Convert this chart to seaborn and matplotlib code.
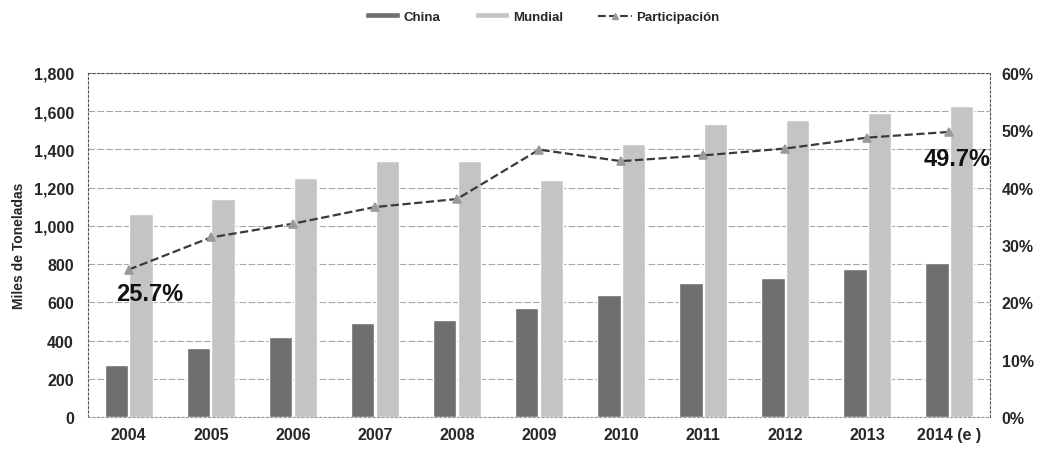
import matplotlib
matplotlib.use("Agg")
import matplotlib.pyplot as plt
import seaborn as sns
import pandas as pd
from matplotlib.ticker import FuncFormatter
from matplotlib.lines import Line2D
from matplotlib.patches import Patch

# Data (thousand tonnes and China's share of world output)
years = ["2004", "2005", "2006", "2007", "2008", "2009", "2010", "2011", "2012", "2013", "2014 (e )"]
china = [272, 360, 420, 490, 510, 570, 640, 700, 725, 775, 805]
mundial = [1060, 1140, 1250, 1340, 1340, 1240, 1430, 1530, 1555, 1590, 1625]
participacion = [25.7, 31.3, 33.7, 36.6, 38.0, 46.6, 44.6, 45.6, 46.8, 48.7, 49.7]

series_names = ["China", "Mundial"]
bar_colors = ["#6f6f6f", "#c4c4c4"]
line_color = "#3a3a3a"
marker_color = "#9a9a9a"

sns.set_theme(style="white")
plt.rcParams["font.family"] = ["Liberation Sans", "DejaVu Sans"]

df = pd.DataFrame({
    "Año": years * 2,
    "Valor": china + mundial,
    "Serie": [series_names[0]] * len(years) + [series_names[1]] * len(years),
})

fig = plt.figure(figsize=(10.57, 4.64), dpi=100)
ax = fig.add_axes([0.083, 0.099, 0.854, 0.742])

sns.barplot(data=df, x="Año", y="Valor", hue="Serie", palette=bar_colors,
            width=0.6, gap=0.05, ax=ax, legend=False, saturation=1)

ax.set_ylim(0, 1800)
ax.set_yticks(range(0, 1801, 200))
ax.yaxis.set_major_formatter(FuncFormatter(lambda v, p: f"{int(v):,}"))
ax.set_xlabel("")
ax.set_ylabel("Miles de Toneladas", fontsize=10, fontweight="bold")
ax.yaxis.set_label_coords(-0.068, 0.5)
ax.grid(axis="y", color="#a8a8a8", linewidth=0.8, linestyle=(0, (6, 2)))
ax.set_axisbelow(True)
for lab in ax.get_xticklabels() + ax.get_yticklabels():
    lab.set_fontweight("bold")
    lab.set_fontsize(11.5)
ax.tick_params(axis="x", pad=7, length=0)
ax.tick_params(axis="y", pad=10, length=0)

for side in ["left", "right", "top", "bottom"]:
    ax.spines[side].set_color("#555555")
    ax.spines[side].set_linewidth(0.8)
    ax.spines[side].set_linestyle((0, (2, 2)))
ax.spines["bottom"].set_color("#999999")

ax2 = ax.twinx()
sns.pointplot(x=years, y=participacion, ax=ax2, color=line_color,
              markers="^", linestyles="--", markersize=6, linewidth=1.6,
              markerfacecolor=marker_color, markeredgecolor=marker_color)
ax2.set_ylim(0, 60)
ax2.set_yticks(range(0, 61, 10))
ax2.yaxis.set_major_formatter(FuncFormatter(lambda v, p: f"{int(v)}%"))
ax2.grid(False)
for lab in ax2.get_yticklabels():
    lab.set_fontweight("bold")
    lab.set_fontsize(11.5)
ax2.tick_params(axis="y", pad=8, length=0)
for side in ["left", "right", "top", "bottom"]:
    ax2.spines[side].set_visible(False)
ax.set_xlim(-0.5, 10.5)
ax2.set_xlim(-0.5, 10.5)

ax2.text(0.26, 21.5, f"{participacion[0]}%", ha="center", va="center",
         fontsize=17, fontweight="bold", color="#111111")
ax2.text(10.1, 45.0, f"{participacion[-1]}%", ha="center", va="center",
         fontsize=17, fontweight="bold", color="#111111")

handles = [
    Patch(facecolor=bar_colors[0], label="China"),
    Patch(facecolor=bar_colors[1], label="Mundial"),
    Line2D([0], [0], color=line_color, linestyle="--", marker="^", markersize=5,
           markerfacecolor=marker_color, markeredgecolor=marker_color, label="Participación"),
]
fig.legend(handles=handles, loc="center", bbox_to_anchor=(0.513, 0.962), ncol=3,
           frameon=False, prop={"size": 9.5, "weight": "bold"}, handlelength=2.6,
           handleheight=0.3, columnspacing=2.6, handletextpad=0.3)

fig.savefig("out.png", dpi=100)
